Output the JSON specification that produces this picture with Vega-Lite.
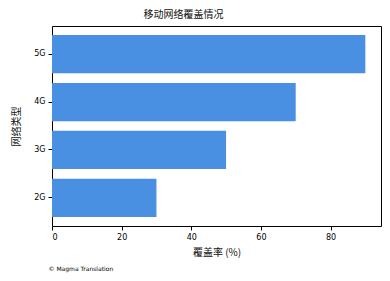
{
  "$schema": "https://vega.github.io/schema/vega-lite/v6.json",
  "width": 329,
  "height": 200,
  "autosize": {"type": "none"},
  "padding": {"left": 52, "top": 26, "right": 9, "bottom": 55},
  "background": "white",
  "title": {"text": "移动网络覆盖情况", "anchor": "middle", "dx": -33, "offset": 6, "fontSize": 10, "fontWeight": "normal", "font": "Noto Sans CJK SC", "color": "#111111"},
  "config": {
    "view": {"stroke": "black", "strokeWidth": 1},
    "axis": {"labelFont": "DejaVu Sans", "titleFont": "Noto Sans CJK SC", "labelFontSize": 8, "titleFontSize": 10, "titleFontWeight": "normal", "labelColor": "black", "titleColor": "#111111", "tickColor": "black", "tickSize": 4, "grid": false, "domain": false, "labelPadding": 3}
  },
  "data": {"values": [
    {"type": "2G", "coverage": 30},
    {"type": "3G", "coverage": 50},
    {"type": "4G", "coverage": 70},
    {"type": "5G", "coverage": 90}
  ]},
  "layer": [
    {
      "mark": {"type": "bar", "color": "#4a90e2"},
      "encoding": {
        "x": {"field": "coverage", "type": "quantitative", "scale": {"domain": [0, 94.5], "nice": false, "zero": true}, "axis": {"title": "覆盖率 (%)", "values": [0, 20, 40, 60, 80], "titlePadding": 6}},
        "y": {"field": "type", "type": "nominal", "sort": ["5G", "4G", "3G", "2G"], "scale": {"paddingInner": 0.2, "paddingOuter": 0.19}, "axis": {"title": "网络类型", "labelAngle": 0, "titlePadding": 12}}
      }
    },
    {
      "mark": {"type": "bar", "opacity": 0},
      "encoding": {
        "x": {"field": "coverage", "type": "quantitative", "scale": {"domain": [0, 94.5], "nice": false}, "axis": {"orient": "bottom", "title": "© Magma Translation", "titleFont": "DejaVu Sans", "titleFontSize": 6, "titleColor": "black", "labels": false, "ticks": false, "titleAnchor": "start", "titleAlign": "left", "titleBaseline": "middle", "titleX": -4, "titleY": 42}},
        "y": {"field": "type", "type": "nominal", "sort": ["5G", "4G", "3G", "2G"]}
      }
    }
  ],
  "resolve": {"axis": {"x": "independent"}}
}
